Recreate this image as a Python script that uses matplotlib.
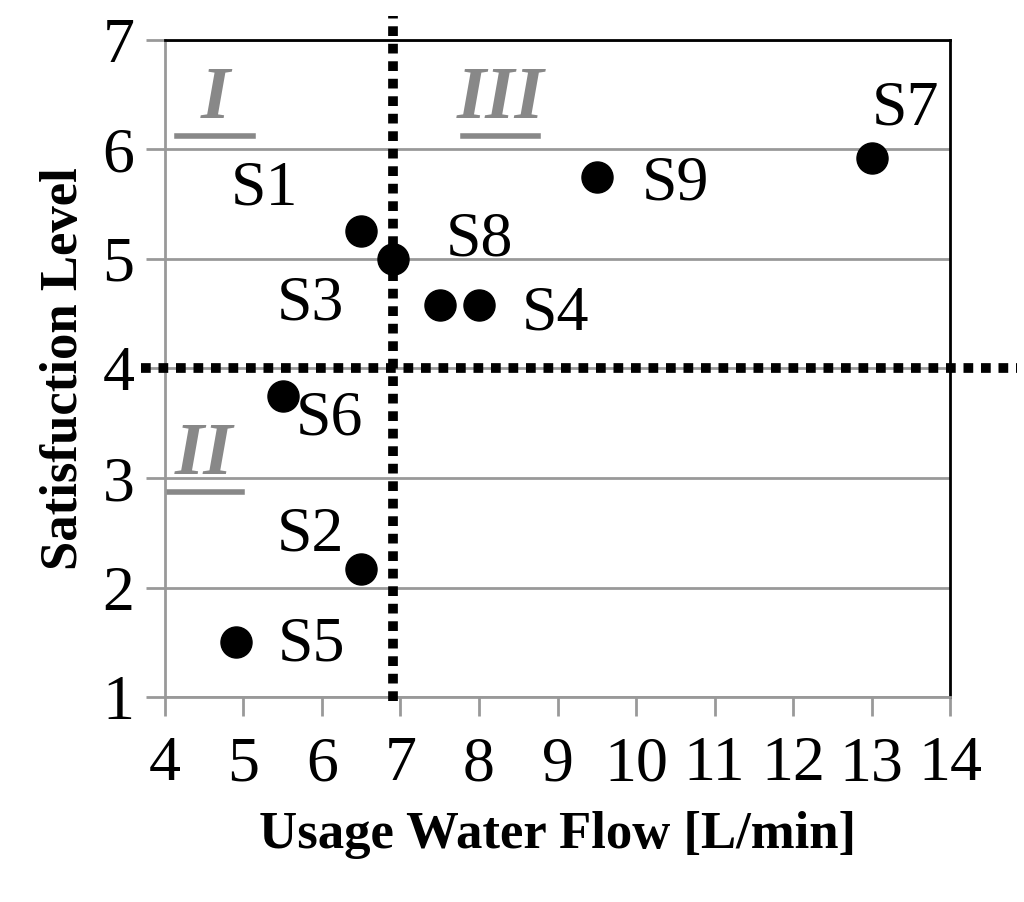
import matplotlib
matplotlib.use("Agg")
import matplotlib.pyplot as plt

# sample points
names = ["S1", "S2", "S3", "S4", "S5", "S6", "S7", "S8", "S9"]
flow = [6.5, 6.5, 7.5, 8.0, 4.9, 5.5, 13.0, 6.9, 9.5]
level = [5.25, 2.17, 4.58, 4.58, 1.5, 3.75, 5.92, 5.0, 5.75]
# label centres (data coords)
lab_x = [5.27, 5.85, 5.85, 8.97, 5.87, 6.1, 13.43, 8.0, 10.5]
lab_y = [5.63, 2.48, 4.58, 4.49, 1.47, 3.53, 6.36, 5.17, 5.68]

x_split = 6.9
y_split = 4.0
quadrants = ["I", "II", "III"]
quad_x = [4.64, 4.5, 8.27]
quad_y = [6.45, 3.2, 6.45]

plt.rcParams["font.family"] = ["Liberation Serif", "DejaVu Serif"]
fig = plt.figure(figsize=(10.24, 9.02), dpi=100)
ax = fig.add_axes([0.161, 0.227, 0.767, 0.729])

ax.set_xlim(4, 14)
ax.set_ylim(1, 7)
ax.set_xticks(range(4, 15))
ax.set_yticks(range(1, 8))
ax.grid(axis="y", color="#999999", linewidth=2)
ax.set_axisbelow(True)
for s in ["top", "right"]:
    ax.spines[s].set_color("black")
    ax.spines[s].set_linewidth(2)
for s in ["left", "bottom"]:
    ax.spines[s].set_color("#999999")
    ax.spines[s].set_linewidth(2)
ax.tick_params(axis="x", length=14, width=2, color="#999999", labelsize=46, pad=14)
ax.tick_params(axis="y", length=14, width=2, color="#999999", labelsize=46, pad=8)

ax.scatter(flow, level, s=500, color="black", zorder=5)
for n, x, y in zip(names, lab_x, lab_y):
    ax.text(x, y, n, fontsize=46, ha="center", va="center")

ax.plot([x_split, x_split], [0.97, 7.22], color="black", linewidth=7,
        linestyle=(0, (1, 0.8)), clip_on=False, zorder=4)
ax.plot([3.7, 14.85], [y_split, y_split], color="black", linewidth=7,
        linestyle=(0, (1, 0.8)), clip_on=False, zorder=4)

for q, x, y in zip(quadrants, quad_x, quad_y):
    ax.text(x, y, q, fontsize=54, color="#888888", style="italic",
            fontweight="bold", ha="center", va="center")
    ax.plot([x - 0.48, x + 0.48], [y - 0.33, y - 0.33], color="#888888", linewidth=4)

ax.set_xlabel("Usage Water Flow [L/min]", fontsize=38, fontweight="bold", labelpad=12)
ax.set_ylabel("Satisfuction Level", fontsize=38, fontweight="bold", labelpad=10)

fig.savefig("out.png", dpi=100)
